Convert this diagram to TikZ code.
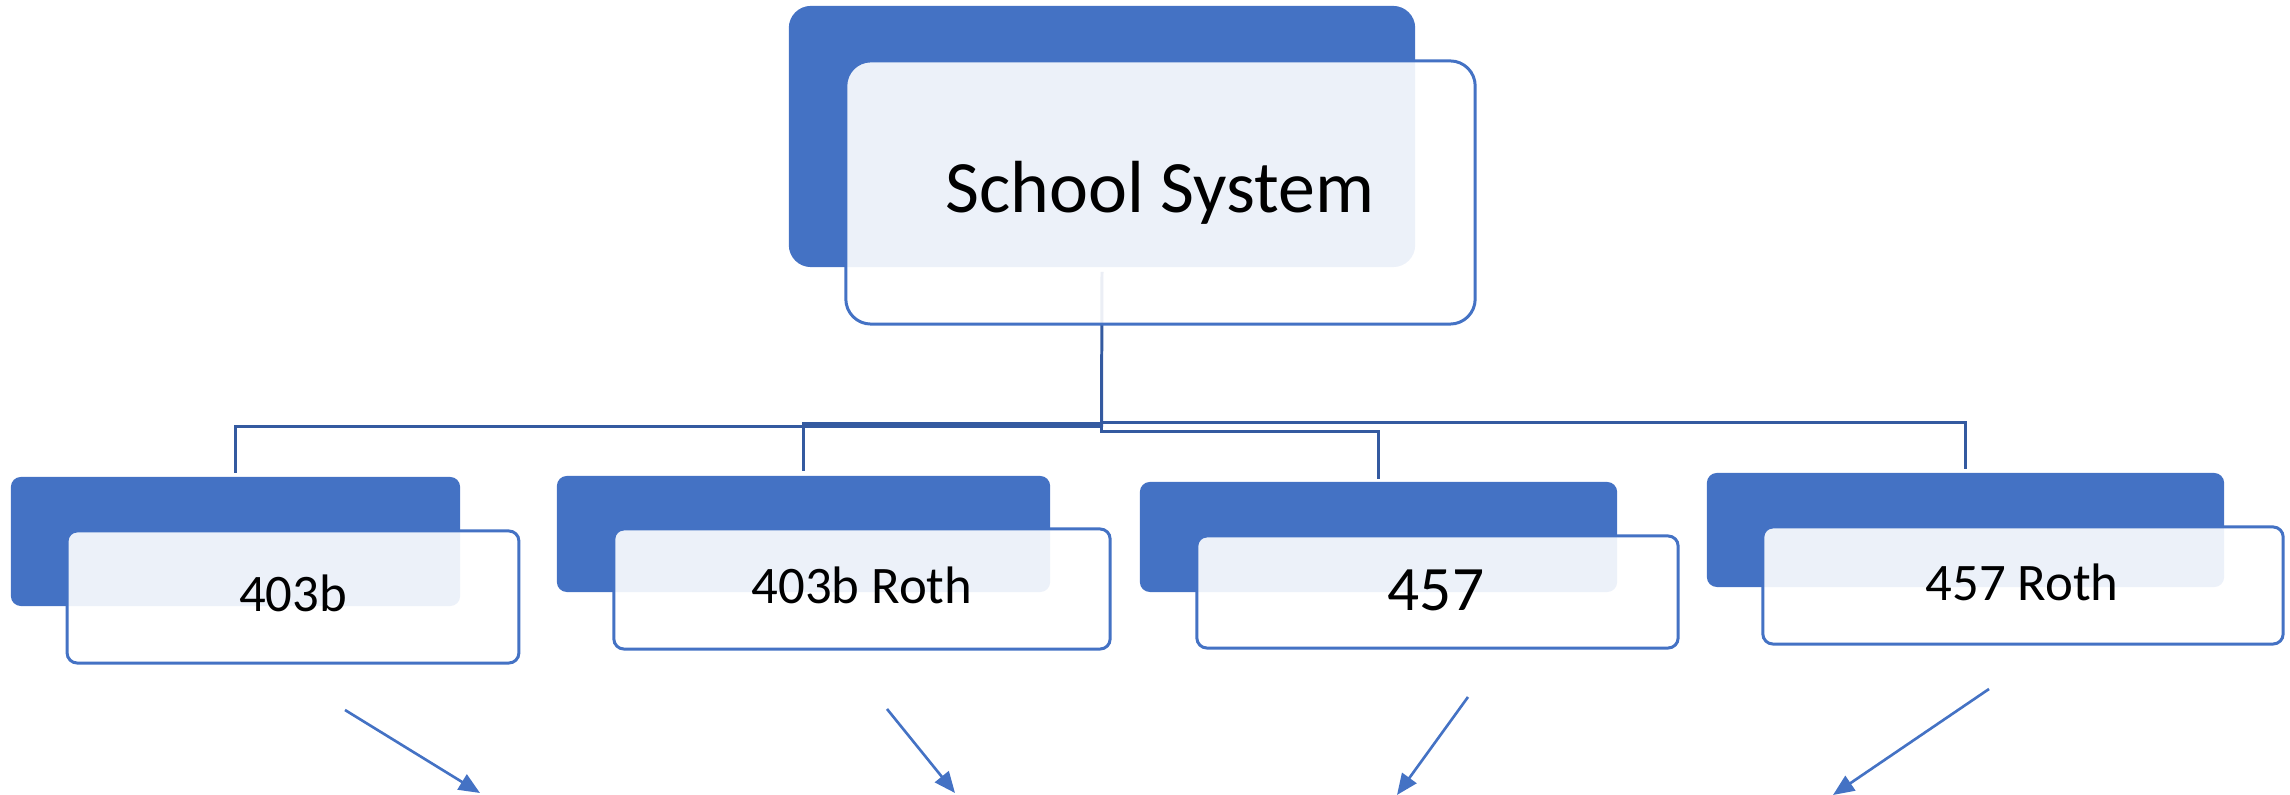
\documentclass[tikz,border=0pt]{standalone}
\usepackage{fontspec}
\setmainfont{Carlito}
\usetikzlibrary{arrows.meta,calc}
\definecolor{accent}{HTML}{4472C4}
\definecolor{connblue}{RGB}{52,90,160}
\tikzset{
  darkbox/.style={draw=none,fill=accent,rounded corners=#1,inner sep=0pt},
  darkbox/.default=0.1cm,
  lightbox/.style={draw=accent,line width=0.85pt,fill=white,fill opacity=0.9,rounded corners=#1,inner sep=0pt},
  lightbox/.default=0.1cm,
  conn/.style={draw=connblue,line width=0.85pt},
  arr/.style={draw=accent,line width=0.75pt,-{Triangle[length=6pt,width=5pt]}},
  lbl/.style={anchor=base,inner sep=0pt,text=black}
}
\begin{document}
\begin{tikzpicture}[x=0.01cm,y=-0.01cm]
\useasboundingbox (0,0) rectangle (2290,795);
% dark back boxes
\node[darkbox=0.22cm,minimum width=6.26cm,minimum height=2.61cm] (d0) at (1102,136.5) {};
\node[darkbox,minimum width=4.49cm,minimum height=1.29cm] (d1) at (235.5,541.5) {};
\node[darkbox,minimum width=4.93cm,minimum height=1.16cm] (d2) at (803.5,534) {};
\node[darkbox,minimum width=4.77cm,minimum height=1.10cm] (d3) at (1378.5,537) {};
\node[darkbox,minimum width=5.17cm,minimum height=1.14cm] (d4) at (1965.5,530) {};
% connectors
\coordinate (hub) at (1101.5,427);
\draw[conn] ($(d0.south)+(0,4)$) -- (hub);
\draw[conn] (hub) -| ($(d1.north)+(0,-3)$);
\draw[conn] ($(hub)+(0,-3)$) -| ($(d2.north)+(0,-4)$);
\draw[conn] (hub) -- ($(hub)+(0,5)$) -| ($(d3.north)+(0,-2)$);
\draw[conn] ($(hub)+(0,-4)$) -| ($(d4.north)+(0,-3)$);
% light front boxes
\node[lightbox=0.25cm,minimum width=6.29cm,minimum height=2.63cm] (l0) at (1160.5,192.5) {};
\node[lightbox,minimum width=4.515cm,minimum height=1.32cm] (l1) at (293,597) {};
\node[lightbox,minimum width=4.96cm,minimum height=1.20cm] (l2) at (862,589) {};
\node[lightbox,minimum width=4.81cm,minimum height=1.12cm] (l3) at (1437.5,592) {};
\node[lightbox,minimum width=5.20cm,minimum height=1.17cm] (l4) at (2023,585.5) {};
% labels
\node[lbl,font=\fontsize{21}{25}\selectfont] (t0) at (1160,213) {School System};
\node[lbl,font=\fontsize{15}{18}\selectfont] (t1) at (293,612) {403b};
\node[lbl,font=\fontsize{15}{18}\selectfont] (t2) at (862,604) {403b Roth};
\node[lbl,font=\fontsize{18}{21}\selectfont] (t3) at (1436,611) {457};
\node[lbl,font=\fontsize{15}{18}\selectfont] (t4) at (2022,601) {457 Roth};
% arrows
\coordinate (a1s) at (345,710); \coordinate (a1e) at (480,793);
\coordinate (a2s) at (887,709); \coordinate (a2e) at (955,793);
\coordinate (a3s) at (1468,697); \coordinate (a3e) at (1397,795);
\coordinate (a4s) at (1989,689); \coordinate (a4e) at (1833,795);
\draw[arr] (a1s) -- (a1e);
\draw[arr] (a2s) -- (a2e);
\draw[arr] (a3s) -- (a3e);
\draw[arr] (a4s) -- (a4e);
\end{tikzpicture}
\end{document}
